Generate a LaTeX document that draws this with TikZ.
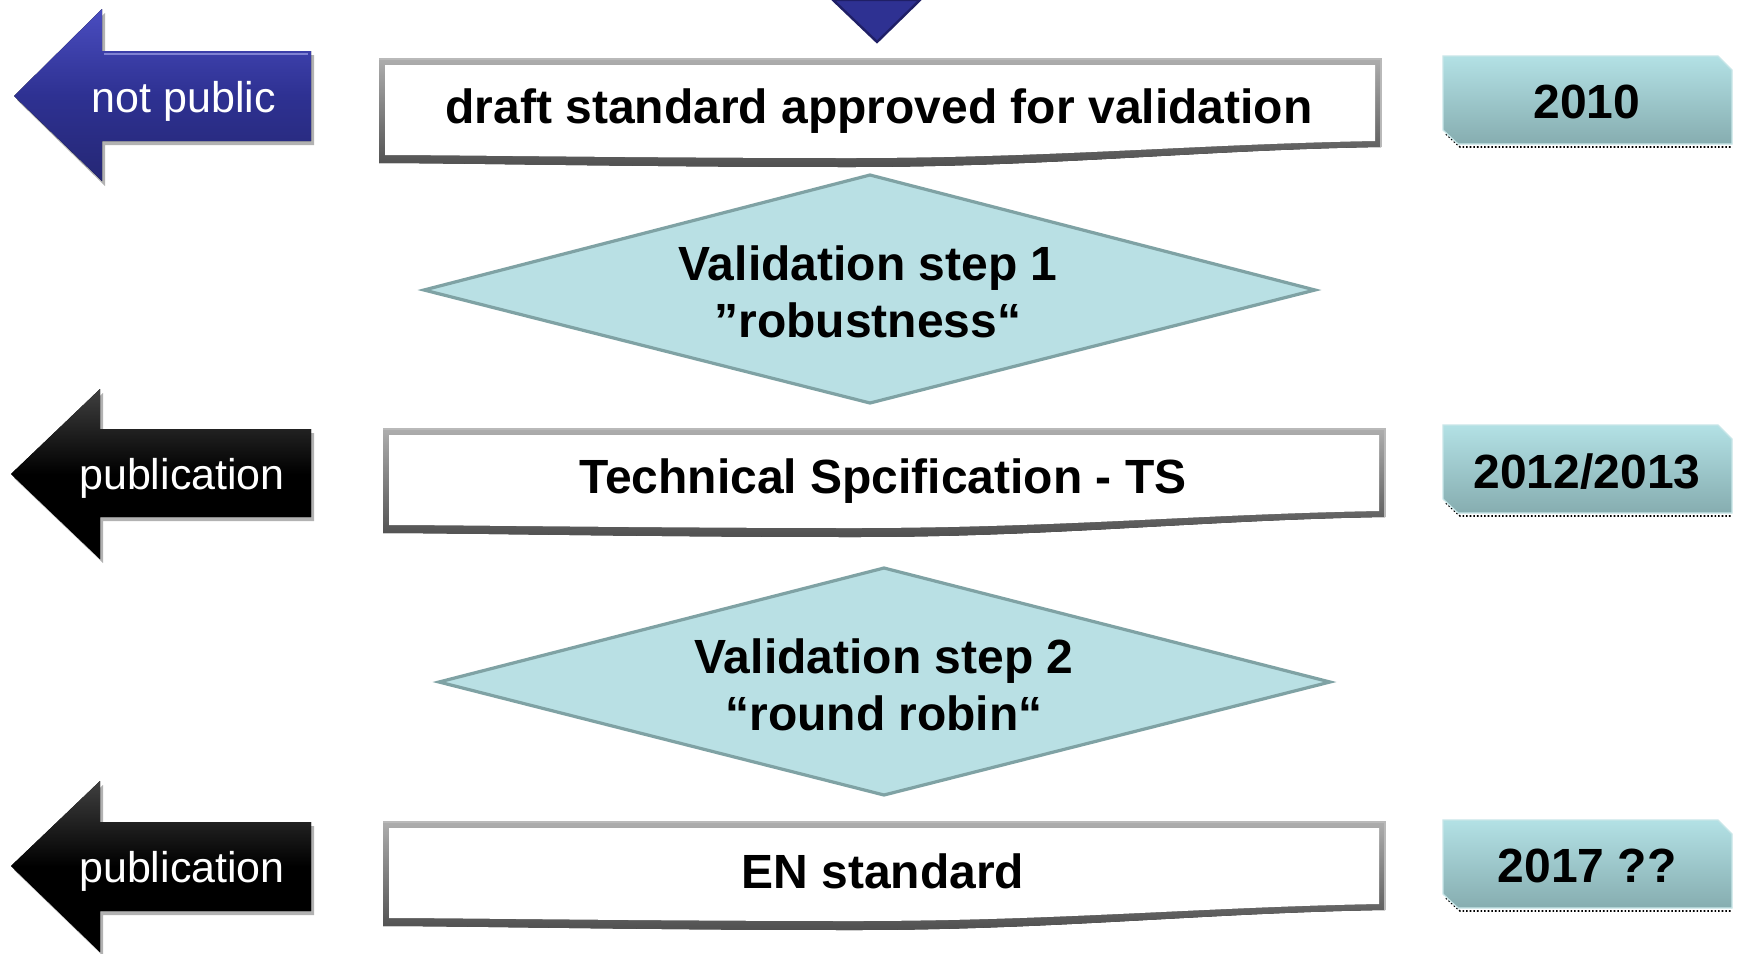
\documentclass[tikz,border=0pt]{standalone}
\usepackage{fontspec}
\setmainfont{Liberation Sans}
\begin{document}
\begin{tikzpicture}[x=0.5pt,y=-0.5pt,
  boxtext/.style={font=\fontsize{24}{28.5}\selectfont\bfseries, text=black, align=center, inner sep=0pt},
  arrtext/.style={font=\fontsize{21.5}{26}\selectfont, text=white, inner sep=0pt},
  yeartext/.style={font=\fontsize{24}{28.5}\selectfont\bfseries, text=black, inner sep=0pt},
  diamondfill/.style={fill=diafill, draw=diaedge, line width=1.6pt, line join=miter},
  yearfill/.style={top color=yeartop, bottom color=yearbot, draw=yearedge, line width=0.6pt},
  shadowfill/.style={fill=black, opacity=0.3},
]
\definecolor{diafill}{HTML}{B9E0E4}
\definecolor{diaedge}{HTML}{7FA2A4}
\definecolor{yeartop}{HTML}{B3E1E5}
\definecolor{yearbot}{HTML}{86ADB0}
\definecolor{yearedge}{HTML}{C8E6E8}
\definecolor{navy}{HTML}{2E3192}
\definecolor{navydark}{HTML}{1F1F66}
\definecolor{navylight}{HTML}{4A4DC0}
\definecolor{boxedge}{HTML}{8A8A8A}
\definecolor{boxshadow}{HTML}{505050}

\useasboundingbox (0,0) rectangle (1737,954);
\fill[white] (0,0) rectangle (1737,954);

% top incoming triangle
\filldraw[fill=navy, draw=navydark, line width=1.2pt, line join=miter]
  (833,0) -- (920,0) -- (877,42) -- cycle;

% ---------- white boxes ----------
\foreach \dx/\dy in {0/0, 4/370, 4/763}{
\begin{scope}[shift={(\dx,\dy)}]
  \fill[top color=boxedge!70, bottom color=boxshadow]
    (379,59) -- (1381,59) -- (1381,147)
    .. controls (1200,150) and (1050,167) .. (850,167)
    .. controls (650,167) and (450,163) .. (379,163) -- cycle;
  \fill[white]
    (385,65) -- (1375,65) -- (1375,141)
    .. controls (1200,144) and (1050,158) .. (850,158)
    .. controls (650,158) and (450,155) .. (385,155) -- cycle;
  \draw[boxedge!60, line width=0.6pt]
    (379,59) -- (1381,59) -- (1381,147);
\end{scope}
}

\node[boxtext] (draft) at (879,111) {draft standard approved for validation};
\node[boxtext] (ts) at (883,481) {Technical Spcification - TS};
\node[boxtext] (en) at (883,871) {EN standard};

% ---------- diamonds ----------
\draw[diamondfill] (424,290) -- (870,175) -- (1315,290) -- (870,403) -- cycle;
\node[boxtext] (v1) at (868,292) {Validation step 1\\”robustness“};

\draw[diamondfill] (439,682) -- (884,568) -- (1330,682) -- (884,795) -- cycle;
\node[boxtext] (v2) at (884,685) {Validation step 2\\“round robin“};

% ---------- year boxes ----------
\foreach \dy in {0, 369, 764}{
\begin{scope}[shift={(0,\dy)}]
  \draw[black, densely dotted, line width=0.8pt]
    (1446,134) -- (1460,147) -- (1732,147);
  \path[yearfill]
    (1443,56) -- (1718,56) -- (1732,70) -- (1732,144) -- (1458,144) -- (1443,130) -- cycle;
\end{scope}
}
\node[yeartext] (y1) at (1587,102) {2010};
\node[yeartext] (y2) at (1587,472) {2012/2013};
\node[yeartext] (y3) at (1587,866) {2017 ??};

% ---------- left arrows ----------
% not public (blue)
\fill[shadowfill] (17,100) -- (105,13) -- (105,55) -- (314,55) -- (314,145) -- (105,145) -- (105,186) -- cycle;
\fill[top color=navylight, bottom color=navy!80!black, middle color=navy]
  (14,96) -- (102,9) -- (102,51) -- (311,51) -- (311,141) -- (102,141) -- (102,181) -- cycle;
\draw[navylight!70!white, line width=1pt] (104,54) -- (308,54);
\node[arrtext] (np) at (184,101) {not public};

% publication 1 (black)
\fill[shadowfill] (14,478) -- (103,393) -- (103,433) -- (314,433) -- (314,521) -- (103,521) -- (103,563) -- cycle;
\fill[top color=black!75, bottom color=black, middle color=black]
  (11,474) -- (100,389) -- (100,429) -- (311,429) -- (311,517) -- (100,517) -- (100,559) -- cycle;
\node[arrtext] (pub1) at (182,478) {publication};

% publication 2 (black)
\fill[shadowfill] (14,870) -- (103,785) -- (103,826) -- (314,826) -- (314,915) -- (103,915) -- (103,956) -- cycle;
\fill[top color=black!75, bottom color=black, middle color=black]
  (11,866) -- (100,781) -- (100,822) -- (311,822) -- (311,911) -- (100,911) -- (100,952) -- cycle;
\node[arrtext] (pub2) at (182,871) {publication};

\end{tikzpicture}
\end{document}
